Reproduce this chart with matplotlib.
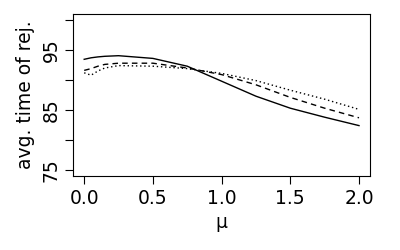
import matplotlib
matplotlib.use("Agg")
import matplotlib.pyplot as plt

# values
mu = [0.0, 0.05, 0.1, 0.15, 0.25, 0.5, 0.75, 1.0, 1.25, 1.5, 1.75, 2.0]
solid = [93.45, 93.7, 93.85, 93.95, 94.05, 93.6, 92.3, 89.8, 87.3, 85.3, 83.8, 82.4]
dashed = [91.6, 91.9, 92.3, 92.6, 92.8, 92.8, 92.0, 90.9, 89.2, 87.1, 85.3, 83.7]
dotted = [91.2, 90.8, 91.5, 92.0, 92.4, 92.3, 91.9, 91.1, 89.9, 88.3, 86.8, 85.1]

yticks = [75, 80, 85, 90, 95, 100]
ylabels = ["75", "", "85", "", "95", ""]
xticks = [0.0, 0.5, 1.0, 1.5, 2.0]

fig = plt.figure(figsize=(4, 2.5), dpi=100)
ax = fig.add_axes([0.183, 0.296, 0.742, 0.648])

ax.plot(mu, solid, color="black", lw=1.0, ls="-")
ax.plot(mu, dashed, color="black", lw=1.0, ls=(0, (4, 3)))
ax.plot(mu, dotted, color="black", lw=1.0, ls=(0, (1, 2)))

ax.set_xlim(-0.08, 2.08)
ax.set_ylim(74.0, 101.0)
ax.set_xticks(xticks)
ax.set_xticklabels([f"{v:.1f}" for v in xticks])
ax.set_yticks(yticks)
ax.set_yticklabels(ylabels, rotation=90, va="center")
ax.tick_params(direction="out", length=6, width=0.8, labelsize=13.5, pad=3)

for s in ax.spines.values():
    s.set_linewidth(0.8)

ax.set_xlabel("μ", fontsize=13.5, labelpad=4)
ax.set_ylabel("avg. time of rej.", fontsize=13.5, labelpad=5)

fig.savefig("out.png", dpi=100)
